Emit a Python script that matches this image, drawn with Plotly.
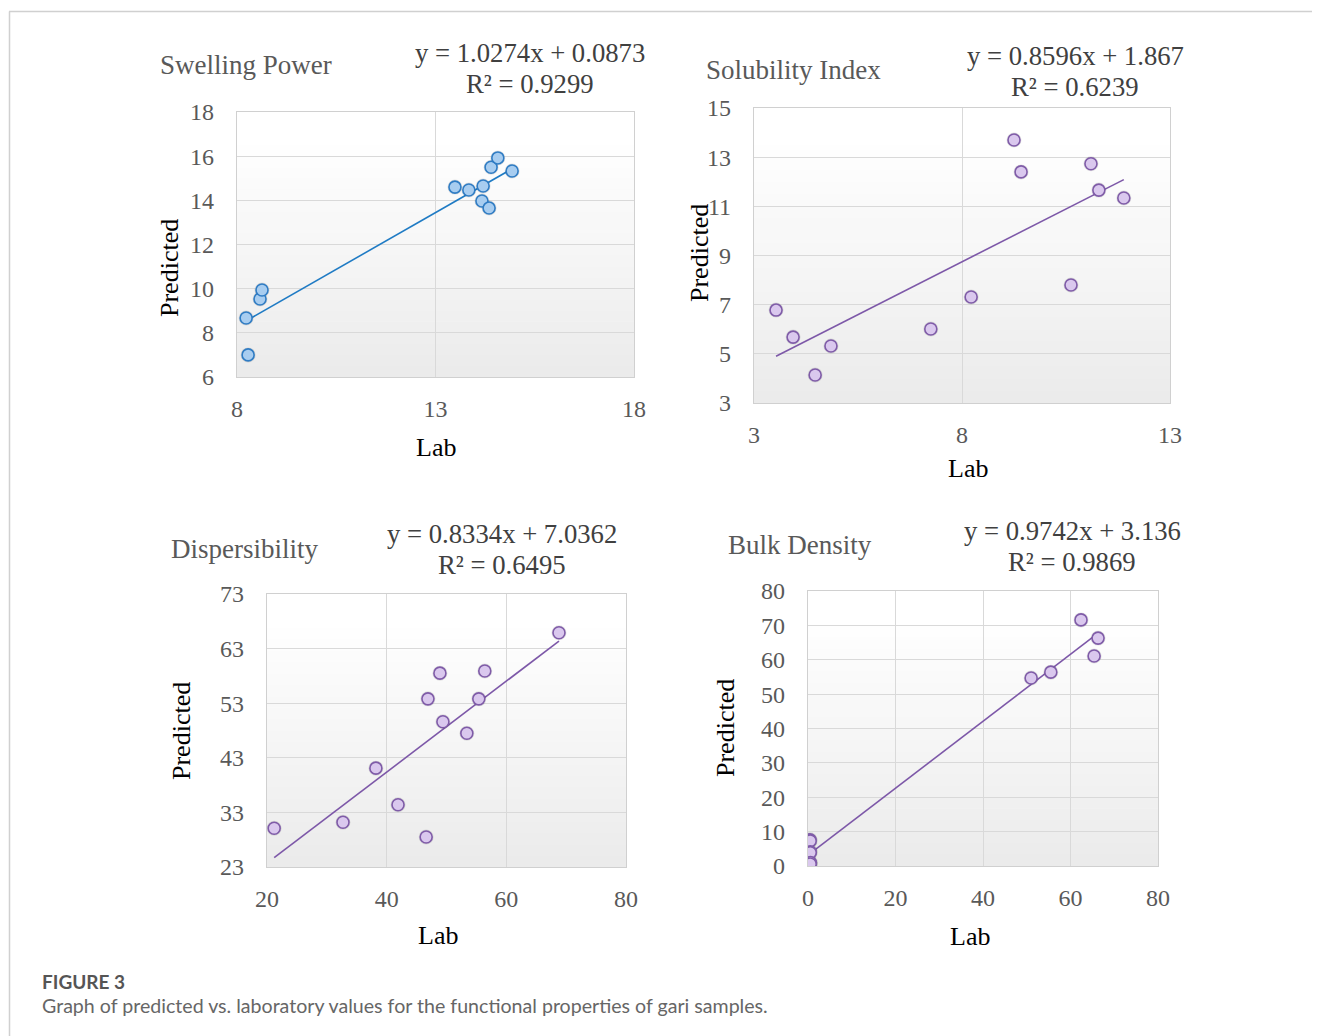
import plotly.graph_objects as go

W, H = 1320, 1036
OFF = 8  # page body margin in the browser

# ---------------- data ----------------
sp_lab = [8.23, 8.28, 8.58, 8.63, 13.49, 13.84, 14.20, 14.17, 14.35, 14.40, 14.57, 14.93]
sp_pred = [8.67, 7.00, 9.53, 9.94, 14.60, 14.47, 14.65, 13.97, 13.65, 15.50, 15.92, 15.33]

si_lab = [3.53, 3.94, 4.47, 4.85, 7.25, 8.22, 9.25, 9.42, 10.62, 11.10, 11.29, 11.89]
si_pred = [6.78, 5.68, 4.14, 5.32, 6.01, 7.31, 13.70, 12.40, 7.80, 12.73, 11.66, 11.34]

di_lab = [21.2, 32.7, 38.2, 41.9, 46.6, 46.9, 48.9, 49.4, 53.4, 55.4, 56.4, 68.8]
di_pred = [30.1, 31.2, 41.1, 34.4, 28.5, 53.8, 58.5, 49.6, 47.5, 53.8, 58.9, 65.9]

bd_lab = [0.45, 0.50, 0.48, 0.52, 0.47, 0.55, 0.50, 51.0, 55.5, 62.4, 65.4, 66.3]
bd_pred = [7.6, 7.3, 4.1, 3.9, 0.8, 1.0, 0.6, 54.7, 56.4, 71.6, 61.1, 66.3]

titles = ["Swelling Power", "Solubility Index", "Dispersibility", "Bulk Density"]
slopes = [1.0274, 0.8596, 0.8334, 0.9742]
intercepts = [0.0873, 1.867, 7.0362, 3.136]
eq_text = ["y = 1.0274x + 0.0873", "y = 0.8596x + 1.867", "y = 0.8334x + 7.0362", "y = 0.9742x + 3.136"]
r2_text = ["R² = 0.9299", "R² = 0.6239", "R² = 0.6495", "R² = 0.9869"]

x_ticks = [[8, 13, 18], [3, 8, 13], [20, 40, 60, 80], [0, 20, 40, 60, 80]]
y_ticks = [[6, 8, 10, 12, 14, 16, 18], [3, 5, 7, 9, 11, 13, 15],
           [23, 33, 43, 53, 63, 73], [0, 10, 20, 30, 40, 50, 60, 70, 80]]

series = [(sp_lab, sp_pred), (si_lab, si_pred), (di_lab, di_pred), (bd_lab, bd_pred)]

# ---------------- layout geometry (pixels) ----------------
boxes = [(237, 634, 112, 377), (754, 1170, 108, 403), (267, 626, 594, 867), (808, 1158, 591, 866)]
title_pos = [(158, 65), (704, 70), (169, 549), (726, 545)]
eq_pos = [(530, 53), (1075, 56), (502, 534), (1072, 531)]
lab_pos = [(436, 447), (968, 468), (438, 935), (970, 936)]
pred_pos = [(170, 268), (699, 253), (181, 731), (725, 728)]

marker_fill = ["#a8cdf0", "#dac8ee", "#dac8ee", "#dac8ee"]
marker_line = ["#2f7cc4", "#7f5ba8", "#7f5ba8", "#7f5ba8"]
line_col = ["#1f7bc4", "#7d58a8", "#7d58a8", "#7d58a8"]

SERIF = "Liberation Serif"

def px(x):
    return (x - OFF) / W

def py(y):
    return 1 - (y - OFF) / H

fig = go.Figure()
shapes = []
annotations = []

for i, ((xs, ys), (l, r, t, b)) in enumerate(zip(series, boxes)):
    n = i + 1
    xa = "x" if n == 1 else f"x{n}"
    ya = "y" if n == 1 else f"y{n}"
    xk = "xaxis" if n == 1 else f"xaxis{n}"
    yk = "yaxis" if n == 1 else f"yaxis{n}"

    x0, x1 = min(xs), max(xs)
    fig.add_trace(go.Scatter(
        x=[x0, x1], y=[slopes[i] * x0 + intercepts[i], slopes[i] * x1 + intercepts[i]],
        mode="lines", line=dict(color=line_col[i], width=1.6),
        xaxis=xa, yaxis=ya, showlegend=False, hoverinfo="skip"))
    fig.add_trace(go.Scatter(
        x=xs, y=ys, mode="markers",
        marker=dict(size=15, color="rgba(0,0,0,0.10)", line=dict(width=0)),
        xaxis=xa, yaxis=ya, showlegend=False, hoverinfo="skip"))
    fig.add_trace(go.Scatter(
        x=xs, y=ys, mode="markers",
        marker=dict(size=12, color=marker_fill[i], line=dict(color=marker_line[i], width=1.6)),
        xaxis=xa, yaxis=ya, showlegend=False))

    xt, yt = x_ticks[i], y_ticks[i]
    common = dict(showgrid=True, gridcolor="#d9d9d9", gridwidth=1.3,
                  showline=True, linecolor="#d0d0d0", linewidth=1.4, mirror=True,
                  zeroline=False, ticks="outside", tickcolor="rgba(0,0,0,0)",
                  tickfont=dict(family=SERIF, size=24, color="#595959"),
                  automargin=False, fixedrange=True)
    fig.update_layout(**{
        xk: dict(domain=[px(l), px(r)], range=[xt[0], xt[-1]], tickvals=xt,
                 ticklen=10, anchor=ya, **common),
        yk: dict(domain=[py(b), py(t)], range=[yt[0], yt[-1]], tickvals=yt,
                 ticklen=17, anchor=xa, **common),
    })

    nb = 24
    for k in range(nb):
        f0 = k / nb
        f1 = (k + 1) / nb
        tval = 1 - (f0 + f1) / 2
        g = int(round(255 - 20 * max(0.0, tval - 0.1) / 0.9))
        shapes.append(dict(type="rect", xref=f"{xa} domain", yref=f"{ya} domain",
                           x0=0, x1=1, y0=f0, y1=f1 + 0.002, layer="below",
                           line=dict(width=0), fillcolor=f"rgb({g},{g},{g})"))

    tx, ty = title_pos[i]
    annotations.append(dict(x=px(tx), y=py(ty), xref="paper", yref="paper", xanchor="left",
                            yanchor="middle", showarrow=False, text=titles[i],
                            font=dict(family=SERIF, size=27, color="#595959")))
    ex, ey = eq_pos[i]
    annotations.append(dict(x=px(ex), y=py(ey), xref="paper", yref="paper", xanchor="center",
                            yanchor="middle", showarrow=False, text=eq_text[i],
                            font=dict(family=SERIF, size=26.7, color="#404040")))
    annotations.append(dict(x=px(ex), y=py(ey + 31), xref="paper", yref="paper", xanchor="center",
                            yanchor="middle", showarrow=False, text=r2_text[i],
                            font=dict(family=SERIF, size=26.7, color="#404040")))
    lx, ly = lab_pos[i]
    annotations.append(dict(x=px(lx), y=py(ly), xref="paper", yref="paper", xanchor="center",
                            yanchor="middle", showarrow=False, text="Lab",
                            font=dict(family=SERIF, size=26, color="#000000")))
    qx, qy = pred_pos[i]
    annotations.append(dict(x=px(qx), y=py(qy), xref="paper", yref="paper", xanchor="center",
                            yanchor="middle", showarrow=False, text="Predicted", textangle=-90,
                            font=dict(family=SERIF, size=26, color="#000000")))

annotations.append(dict(x=px(40), y=py(981), xref="paper", yref="paper", xanchor="left",
                        yanchor="middle", showarrow=False, text="<b>FIGURE 3</b>",
                        font=dict(family="Lato", size=19, color="#555555")))
annotations.append(dict(x=px(40), y=py(1005), xref="paper", yref="paper", xanchor="left",
                        yanchor="middle", showarrow=False,
                        text="Graph of predicted vs. laboratory values for the functional properties of gari samples.",
                        font=dict(family="Lato", size=19.6, color="#666666")))

shapes.append(dict(type="line", xref="paper", yref="paper", x0=px(9), x1=1, y0=py(11.5), y1=py(11.5),
                   line=dict(color="#d0d0d0", width=1.5)))
shapes.append(dict(type="line", xref="paper", yref="paper", x0=px(9.5), x1=px(9.5), y0=0, y1=py(11.5),
                   line=dict(color="#d0d0d0", width=1.5)))

fig.update_layout(template="none", width=W, height=H, autosize=False,
                  margin=dict(l=0, r=0, t=0, b=0, pad=0),
                  font=dict(family=SERIF, color="#595959"),
                  paper_bgcolor="white", plot_bgcolor="white",
                  shapes=shapes, annotations=annotations, showlegend=False)

fig.write_html("out.html", config={"displayModeBar": False})
